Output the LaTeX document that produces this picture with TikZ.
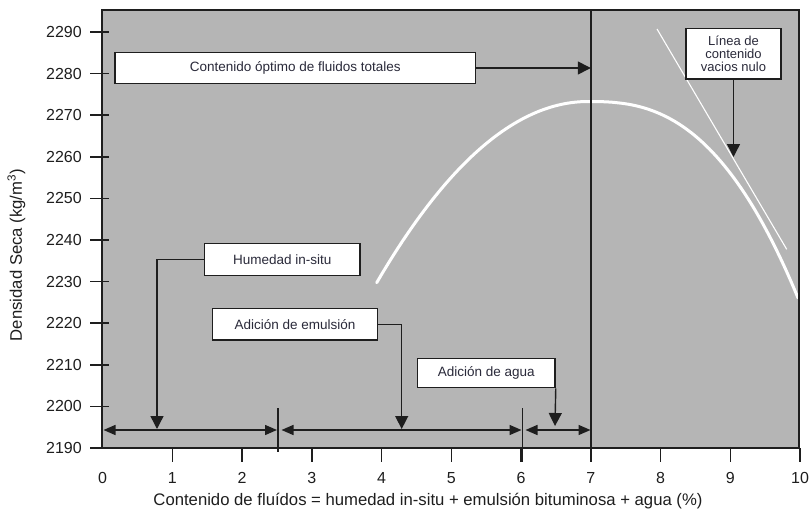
\documentclass[tikz,border=0pt]{standalone}
\usepackage{fontspec}
\setmainfont{Liberation Sans}
\usetikzlibrary{arrows.meta}
\definecolor{bg}{HTML}{B5B5B5}
\definecolor{ink}{HTML}{1E1E1E}
\definecolor{txt}{HTML}{2A2A3A}
\begin{document}
\begin{tikzpicture}[x=1pt,y=-1pt,
  lbl/.style={draw=ink, line width=1.4pt, fill=white, text=txt, font=\fontsize{13.5}{15}\selectfont, inner sep=0pt, align=center},
  conn/.style={draw=ink, line width=1.4pt, -{Triangle[length=13pt,width=13pt]}},
  dbl/.style={draw=ink, line width=1.4pt, {Triangle[length=12pt,width=10pt]}-{Triangle[length=12pt,width=10pt]}},
  axisline/.style={draw=ink, line width=1.5pt},
  ticklbl/.style={font=\fontsize{16}{18}\selectfont, text=ink},
  big/.style={font=\fontsize{16.7}{19}\selectfont, text=ink}
]
\useasboundingbox (0,0) rectangle (812,514);
\fill[bg] (102,10) rectangle (799,448);
% zero voids line
\draw[white, line width=1.1pt] (657,29) -- (786.7,249.3);
% compaction curve
\draw[white, line width=3pt, line cap=round]
  plot[domain=376.7:588, samples=50] (\x,{101.5+181.2*((588-\x)/211.3)^2})
  -- plot[domain=1:210, samples=60] ({588+\x},{101.5+196.5*(\x/210)^2.59});
% frame
\draw[axisline] (102,10) rectangle (799,448);
% y ticks
\foreach \v [count=\i from 0] in {2190,2200,2210,2220,2230,2240,2250,2260,2270,2280,2290} {
  \draw[axisline] (90,{448-41.6*\i}) -- (109,{448-41.6*\i});
  \node[ticklbl, anchor=east, inner sep=0pt] (yl\i) at (82,{448-41.6*\i}) {\v};
}
% x ticks
\foreach \i in {0,...,10} {
  \node[ticklbl, inner sep=0pt] (xl\i) at ({102.5+69.75*\i},478) {\i};
}
\foreach \i in {1,...,10} {
  \draw[axisline] ({102.5+69.75*\i},448) -- ({102.5+69.75*\i},462);
}
% optimum vertical line
\coordinate (opttop) at (590.8,10);
\coordinate (optbot) at (590.8,462);
\draw[axisline] (opttop) -- (optbot);
% axis labels
\node[big] (xlabel) at (428,501) {Contenido de fluídos = humedad in-situ + emulsión bituminosa + agua (\%)};
\node[big, rotate=90] (ylabel) at (16.5,255) {Densidad Seca (kg/m\textsuperscript{3})};
% boxes
\node[lbl, minimum width=360.7pt, minimum height=30.6pt] (opt) at (295.3,68) {Contenido óptimo de fluidos totales};
\node[lbl, minimum width=95pt, minimum height=50.7pt, font=\fontsize{13}{13}\selectfont] (linea) at (733.5,53.7) {Línea de\\contenido\\vacios nulo};
\node[lbl, minimum width=155.7pt, minimum height=31.6pt] (hum) at (282.2,259.5) {Humedad in-situ};
\node[lbl, minimum width=164.6pt, minimum height=31.3pt] (emu) at (295,324.3) {Adición de emulsión};
\node[lbl, minimum width=137.7pt, minimum height=29.4pt] (agua) at (486.2,373) {Adición de agua};
% targets
\coordinate (optT) at (590.8,68);
\coordinate (lineaT) at (733.5,157);
\coordinate (humT) at (157,429);
\coordinate (emuT) at (401.7,429);
\coordinate (aguaT) at (555,426);
\draw[conn] (opt.east) -- (optT);
\draw[conn] (linea.south) -- (lineaT);
\draw[conn] (hum.west) -| (humT);
\draw[conn] (emu.east) -| (emuT);
\draw[conn] (agua.south east) -- (aguaT);
% ranges
\coordinate (r0) at (103.5,430);
\coordinate (r1a) at (277,430);
\coordinate (r1b) at (281.5,430);
\coordinate (r2a) at (521.5,430);
\coordinate (r2b) at (525.5,430);
\coordinate (r3) at (590.5,430);
\draw[dbl] (r0) -- (r1a);
\draw[dbl] (r1b) -- (r2a);
\draw[dbl] (r2b) -- (r3);
\coordinate (d1t) at (277.8,408);
\coordinate (d1b) at (277.8,452);
\coordinate (d2t) at (522.3,408);
\coordinate (d2b) at (522.3,462);
\draw[axisline] (d1t) -- (d1b);
\draw[axisline] (d2t) -- (d2b);
\end{tikzpicture}
\end{document}
